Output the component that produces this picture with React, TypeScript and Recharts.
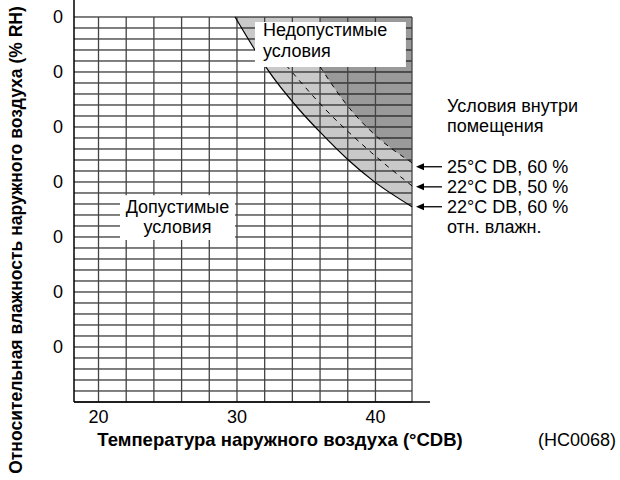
import {
  ComposedChart,
  XAxis,
  YAxis,
  Area,
  Line,
  ReferenceLine,
  ReferenceArea,
  ReferenceDot,
  Label,
} from "recharts";

// outdoor temperature (°C DB) / outdoor humidity (% RH) limits per indoor condition
const temps22at60 = [29.86, 31.3, 32.14, 34.55, 35.99, 38.04, 39.84, 42.64];
const rh22at60 = [100, 94, 90.7, 83.0, 79.1, 74, 70.2, 65.5];

const temps22at50 = [32.6, 33.95, 36.35, 39.73, 42.64];
const rh22at50 = [94, 90.05, 83.3, 75.3, 69.3];

const temps25at60 = [35.99, 38.16, 39.82, 42.64];
const rh25at60 = [91, 83.3, 78.9, 73.5];

const xTicks = [20, 30, 40];
const yTicks = [40, 50, 60, 70, 80, 90, 100];
const yTickLabels = ["0", "0", "0", "0", "0", "0", "0"];

const indoorLabels = ["25°C DB, 60 %", "22°C DB, 50 %", "22°C DB, 60 %"];

const X_MIN = 18.23;
const X_MAX = 43.94;
const GRID_RIGHT = 42.64;
const Y_MIN = 30;
const Y_TOP = 100;
const Y_MAX = 103.09;

const FONT = "'Liberation Sans', Arial, sans-serif";

const toPoints = (temps: number[], rh: number[]) =>
  temps.map((t, i) => ({ t, rh: rh[i], band: [rh[i], Y_TOP] }));

const curve22at60 = toPoints(temps22at60, rh22at60);
const curve22at50 = toPoints(temps22at50, rh22at50);
const curve25at60 = toPoints(temps25at60, rh25at60);

const hGrid: number[] = [];
for (let v = Y_MIN; v <= Y_TOP; v += 2) hGrid.push(v);
const vGrid = [20, 22, 24, 26, 28, 30, 32, 34, 36, 38, 40, GRID_RIGHT];

const ends = [
  { y: rh25at60[rh25at60.length - 1], dy: 4 },
  { y: rh22at50[rh22at50.length - 1], dy: 1 },
  { y: rh22at60[rh22at60.length - 1], dy: 0 },
];

const textStyle = { fontFamily: FONT, fontSize: 18, fill: "#000" };

const Arrow = (props: any, label: string, dy: number, idx: number) => {
  const { cx, cy } = props;
  const y = cy + dy;
  return (
    <g>
      <line x1={cx + 10} y1={y} x2={cx + 30} y2={y} stroke="#000" strokeWidth={1.3} />
      <polygon
        points={`${cx + 4},${y} ${cx + 12},${y - 3.5} ${cx + 12},${y + 3.5}`}
        fill="#000"
      />
      <text x={cx + 35} y={y + 6} {...textStyle}>
        {label}
      </text>
      {idx === 0 && (
        <>
          <text x={cx + 35} y={y - 55} {...textStyle}>
            Условия внутри
          </text>
          <text x={cx + 35} y={y - 34.5} {...textStyle}>
            помещения
          </text>
        </>
      )}
      {idx === 2 && (
        <text x={cx + 35} y={y + 26.5} {...textStyle}>
          отн. влажн.
        </text>
      )}
    </g>
  );
};

export default function App() {
  return (
    <div style={{ position: "absolute", left: 0, top: 0, background: "#fff" }}>
      <ComposedChart
        width={620}
        height={480}
        margin={{ top: 0, right: 190, bottom: 0, left: 0 }}
        style={{ fontFamily: FONT }}
      >
        <XAxis
          type="number"
          dataKey="t"
          domain={[X_MIN, X_MAX]}
          ticks={xTicks}
          allowDataOverflow
          tickLine={false}
          axisLine={{ stroke: "#000", strokeWidth: 1.5 }}
          tick={{ ...textStyle }}
          height={78}
        >
          <Label
            content={(p: any) => {
              const vb = p.viewBox;
              return (
                <g>
                  <text
                    x={vb.x + 206}
                    y={vb.y + 44}
                    textAnchor="middle"
                    {...textStyle}
                    fontSize={18.5}
                    fontWeight="bold"
                  >
                    Температура наружного воздуха (°CDB)
                  </text>
                  <text x={vb.x + 503} y={vb.y + 44} textAnchor="middle" {...textStyle}>
                    (HC0068)
                  </text>
                </g>
              );
            }}
          />
        </XAxis>
        <YAxis
          type="number"
          domain={[Y_MIN, Y_MAX]}
          ticks={yTicks}
          tickFormatter={(_v: number, i: number) => yTickLabels[i]}
          allowDataOverflow
          tickLine={false}
          tickMargin={5}
          axisLine={{ stroke: "#000", strokeWidth: 1.5 }}
          tick={{ ...textStyle }}
          width={74}
        >
          <Label
            content={(p: any) => {
              const vb = p.viewBox;
              return (
                <text
                  transform={`translate(${vb.x + 22},${vb.y + vb.height / 2 + 39}) rotate(-90)`}
                  textAnchor="middle"
                  {...textStyle}
                  fontSize={17.5}
                  fontWeight="bold"
                >
                  Относительная влажность наружного воздуха (% RH)
                </text>
              );
            }}
          />
        </YAxis>

        {/* forbidden zones */}
        <Area
          data={curve22at60}
          dataKey="band"
          type="monotone"
          stroke="none"
          fill="#c9c9c9"
          fillOpacity={1}
          isAnimationActive={false}
          zIndex={100}
        />
        <Area
          data={curve25at60}
          dataKey="band"
          type="monotone"
          stroke="none"
          fill="#9a9a9a"
          fillOpacity={1}
          isAnimationActive={false}
          zIndex={110}
        />

        {hGrid.map((v) => (
          <ReferenceLine
            key={`h${v}`}
            segment={[
              { x: X_MIN, y: v },
              { x: GRID_RIGHT, y: v },
            ]}
            stroke="#000"
            strokeWidth={1}
            zIndex={150}
          />
        ))}
        {vGrid.map((v) => (
          <ReferenceLine
            key={`v${v}`}
            segment={[
              { x: v, y: Y_MIN },
              { x: v, y: Y_TOP },
            ]}
            stroke="#444"
            strokeWidth={1.3}
            zIndex={150}
          />
        ))}

        <Line
          data={curve22at60}
          dataKey="rh"
          type="monotone"
          stroke="#000"
          strokeWidth={1.2}
          dot={false}
          isAnimationActive={false}
          zIndex={400}
        />
        <Line
          data={curve22at50}
          dataKey="rh"
          type="monotone"
          stroke="#000"
          strokeWidth={1}
          strokeDasharray="5 5"
          dot={false}
          isAnimationActive={false}
          zIndex={400}
        />
        <Line
          data={curve25at60}
          dataKey="rh"
          type="monotone"
          stroke="#000"
          strokeWidth={1}
          strokeDasharray="5 5"
          dot={false}
          isAnimationActive={false}
          zIndex={400}
        />

        <ReferenceArea
          x1={31.3}
          x2={42.2}
          y1={90.9}
          y2={99.1}
          fill="#fff"
          fillOpacity={1}
          stroke="none"
          ifOverflow="visible"
          zIndex={450}
        >
          <Label
            content={(p: any) => {
              const vb = p.viewBox;
              return (
                <g>
                  <text x={vb.x + 8} y={vb.y + 14.5} {...textStyle}>
                    Недопустимые
                  </text>
                  <text x={vb.x + 8} y={vb.y + 35} {...textStyle}>
                    условия
                  </text>
                </g>
              );
            }}
          />
        </ReferenceArea>
        <ReferenceArea
          x1={21.55}
          x2={29.86}
          y1={59.45}
          y2={67.6}
          fill="#fff"
          fillOpacity={1}
          stroke="none"
          ifOverflow="visible"
          zIndex={450}
        >
          <Label
            content={(p: any) => {
              const vb = p.viewBox;
              const cx = vb.x + vb.width / 2;
              return (
                <g>
                  <text x={cx} y={vb.y + 18} textAnchor="middle" {...textStyle}>
                    Допустимые
                  </text>
                  <text x={cx} y={vb.y + 38} textAnchor="middle" {...textStyle}>
                    условия
                  </text>
                </g>
              );
            }}
          />
        </ReferenceArea>

        {ends.map((e, i) => (
          <ReferenceDot
            key={indoorLabels[i]}
            x={GRID_RIGHT}
            y={e.y}
            ifOverflow="visible"
            shape={(p: any) => Arrow(p, indoorLabels[i], e.dy, i)}
            zIndex={600}
          />
        ))}
      </ComposedChart>
    </div>
  );
}
